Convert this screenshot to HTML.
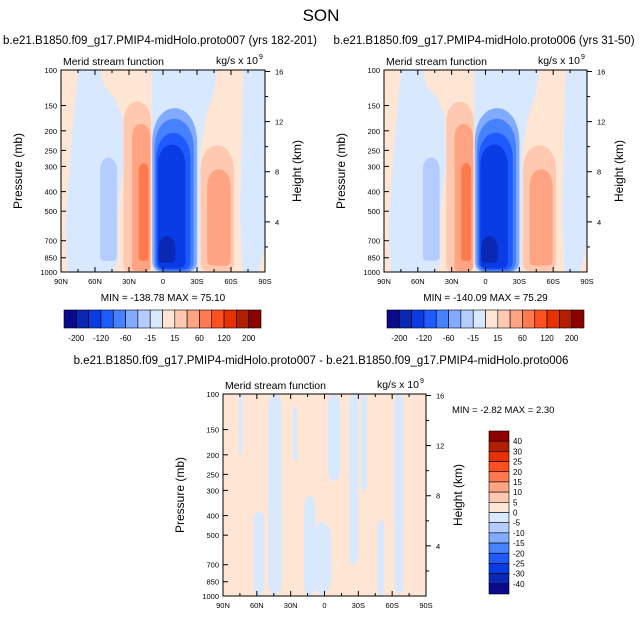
<!DOCTYPE html>
<html><head><meta charset="utf-8"><style>
html,body{margin:0;padding:0;background:#fff;}
svg{display:block;font-family:"Liberation Sans",sans-serif;}
</style></head><body>
<svg id="fig" width="642" height="618" viewBox="0 0 642 618" xmlns="http://www.w3.org/2000/svg">
<text x="321" y="21" font-size="17" text-anchor="middle">SON</text>
</svg>
<script>
// ---- data ----
const colors = ["#0a0a8a","#0a28b4","#0a3ce6","#1e5aff","#4682ff","#82aaff","#b4ccff","#d7e8ff","#ffe6d4","#ffc8b0","#ffa482","#ff7a50","#ff5020","#e63200","#b41e00","#8c0000"];
const topBarLabels = ["-200","-120","-60","-15","15","60","120","200"];
const diffBarLabels = ["40","30","25","20","15","10","5","0","-5","-10","-15","-20","-25","-30","-40"];
const latTicks = [90,60,30,0,-30,-60,-90];
const latTickLabels = ["90N","60N","30N","0","30S","60S","90S"];
const presTicks = [100,150,200,250,300,400,500,700,850,1000];
const heightTicks = [4,8,12,16];
// filled contour features: lat north edge, lat south edge, top pressure, bottom pressure, color index
const featLatN = [55.5,34.8,27.4,21.5,9.5,7.5,6,4.5,3.8,-33.1,-39];
const featLatS = [40.7,10.5,11.2,12.7,-30.1,-27.2,-24.2,-19.8,-10.9,-62.6,-59.6];
const featPTop = [265,138,180,285,145,165,195,225,650,225,300];
const featPBot = [880,1000,990,880,1000,990,975,960,900,990,930];
const featLevel = [6,9,10,11,5,4,3,2,1,9,10];
// light-blue (level 7) region outlines [lat, p]
const blueRegions = [
 [[74.7,100],[56,100],[52,120],[42,140],[36,170],[35,300],[40,500],[40,900],[44,1000],[84,1000],[86,600],[80,200],[76,120]],
 [[10,100],[-48,100],[-45,130],[-38,170],[-33,250],[-32,1000],[9,1000],[10,150]],
 [[-71,100],[-90,100],[-90,750],[-84,1000],[-70,1000],[-68,500]]
];
const panelStats = ["MIN = -138.78  MAX =  75.10","MIN = -140.09  MAX =  75.29"];
// diff streaks: latN, latS, pTop, pBot
const diffLatN = [76,63,50,28,18,10,-3,-22,-32,-47,-62];
const diffLatS = [73,53,38,24,8,-6,-14,-30,-38,-53,-70];
const diffPTop = [100,380,100,115,320,430,100,100,100,420,100];
const diffPBot = [200,1000,990,215,1000,980,270,700,300,1000,980];

const NS="http://www.w3.org/2000/svg";
const svg=document.getElementById('fig');
function el(tag,attrs,parent){const e=document.createElementNS(NS,tag);for(const k in attrs)e.setAttribute(k,attrs[k]);(parent||svg).appendChild(e);return e;}
function txt(x,y,s,size,anchor,parent){const t=el('text',{x:x,y:y,'font-size':size,'text-anchor':anchor||'start'},parent);t.textContent=s;return t;}
function blob(x1,x2,y1,y2){
  const w=x2-x1,h=y2-y1,rt=Math.min(w*0.9,h*0.5),rb=Math.min(w*0.25,h*0.2);
  return 'M'+x1+','+(y2-rb)+' Q'+x1+','+y2+' '+(x1+rb)+','+y2+' L'+(x2-rb)+','+y2+' Q'+x2+','+y2+' '+x2+','+(y2-rb)+
    ' L'+x2+','+(y1+rt)+' C'+x2+','+(y1-rt*0.15)+' '+x1+','+(y1-rt*0.15)+' '+x1+','+(y1+rt)+' Z';
}

function panel(L,T,W,H,title,titleX,isDiff,stats,idx){
  const g=el('g',{});
  
  
  const xs=lat=>L+(90-lat)/180*W;
  const ys=p=>T+(Math.log10(p)-2)*H;
  const clip=el('clipPath',{id:'c'+idx},g);el('rect',{x:L,y:T,width:W,height:H},clip);
  const pg=el('g',{'clip-path':'url(#c'+idx+')'},g);
  el('rect',{x:L,y:T,width:W,height:H,fill:colors[8]},pg);
  if(!isDiff){
    blueRegions.forEach(r=>{const p=el('polygon',{points:r.map(q=>xs(q[0])+','+ys(q[1])).join(' '),fill:colors[7]},pg);
      });
    for(let i=0;i<featLatN.length;i++){
      const x1=xs(featLatN[i]),x2=xs(featLatS[i]),y1=ys(featPTop[i]),y2=ys(featPBot[i]);
      const r=el('path',{d:blob(x1,x2,y1,y2),fill:colors[featLevel[i]]},pg);
      
    }
  } else {
    for(let i=0;i<diffLatN.length;i++){
      const x1=xs(diffLatN[i]),x2=xs(diffLatS[i]),y1=ys(diffPTop[i]),y2=ys(diffPBot[i]);
      const r=el('rect',{x:x1,y:y1,width:x2-x1,height:y2-y1,rx:(x2-x1)/2,ry:(x2-x1),fill:colors[7]},pg);
      
    }
  }
  el('rect',{x:L,y:T,width:W,height:H,fill:'none',stroke:'#000','stroke-width':1},g);
  for(let lat=90;lat>=-90;lat-=15){const x=xs(lat),maj=lat%30===0;
    el('line',{x1:x,y1:T+H,x2:x,y2:T+H-(maj?5:3),stroke:'#000'},g);el('line',{x1:x,y1:T,x2:x,y2:T+(maj?5:3),stroke:'#000'},g);}
  latTicks.forEach((lat,i)=>txt(xs(lat),T+H+12,latTickLabels[i],7.5,'middle',g));
  presTicks.forEach(p=>{const y=ys(p);el('line',{x1:L,y1:y,x2:L+5,y2:y,stroke:'#000'},g);txt(L-4,y+3,String(p),7.5,'end',g);});
  const zs=z=>ys(1000*Math.exp(-z/7));
  for(let z=2;z<=16;z+=2){const y=zs(z),maj=z%4===0;el('line',{x1:L+W,y1:y,x2:L+W+(maj?5:3),y2:y,stroke:'#000'},g);}
  heightTicks.forEach(z=>txt(L+W+10,zs(z)+3,String(z),7.5,'start',g));
  const yt=txt(0,0,'Pressure (mb)',12,'middle',g);yt.setAttribute('transform','translate('+(L-39)+','+(T+H/2)+') rotate(-90)');
  
  const ht=txt(0,0,'Height (km)',12,'middle',g);ht.setAttribute('transform','translate('+(L+W+36)+','+(T+H/2)+') rotate(-90)');
  
  txt(L+2,T-5,'Merid stream function',10.5,'start',g);
  const u=txt(L+W-7,T-6,'kg/s x 10',10.5,'end',g);
  txt(L+W-6,T-11,'9',7,'start',g);
  if(title){const t=txt(titleX,44,title,11.5,'middle',g);}
  if(stats){txt(L+W/2,T+H+29,stats,10,'middle',g);}
  return {xs,ys};
}
panel(61,70,204,202,'b.e21.B1850.f09_g17.PMIP4-midHolo.proto007 (yrs 182-201)',160,false,panelStats[0],1);
panel(384,70,203,202,'b.e21.B1850.f09_g17.PMIP4-midHolo.proto006 (yrs 31-50)',484,false,panelStats[1],2);
panel(223,394,203,202,null,0,true,null,3);
const dt=txt(321,364,'b.e21.B1850.f09_g17.PMIP4-midHolo.proto007 - b.e21.B1850.f09_g17.PMIP4-midHolo.proto006',11.5,'middle');

txt(452,413,'MIN =  -2.82  MAX =  2.30',9.5,'start');

function hbar(L,idx){
  const g=el('g',{});
  const w=(197)/colors.length;
  colors.forEach((c,i)=>{const r=el('rect',{x:L+i*w,y:310,width:w,height:18,fill:c,stroke:'#000','stroke-width':0.6},g);
    });
  topBarLabels.forEach((s,i)=>txt(L+(1+2*i)*w,341,s,8,'middle',g));
}
hbar(64,1);hbar(387,2);
(function(){
  const g=el('g',{});
  const h=163/colors.length;
  colors.slice().reverse().forEach((c,i)=>{const r=el('rect',{x:489,y:431+i*h,width:20,height:h,fill:c,stroke:'#000','stroke-width':0.6},g);
    });
  diffBarLabels.forEach((s,i)=>txt(513,431+(i+1)*h+3,s,8,'start',g));
})();
</script>
</body></html>
